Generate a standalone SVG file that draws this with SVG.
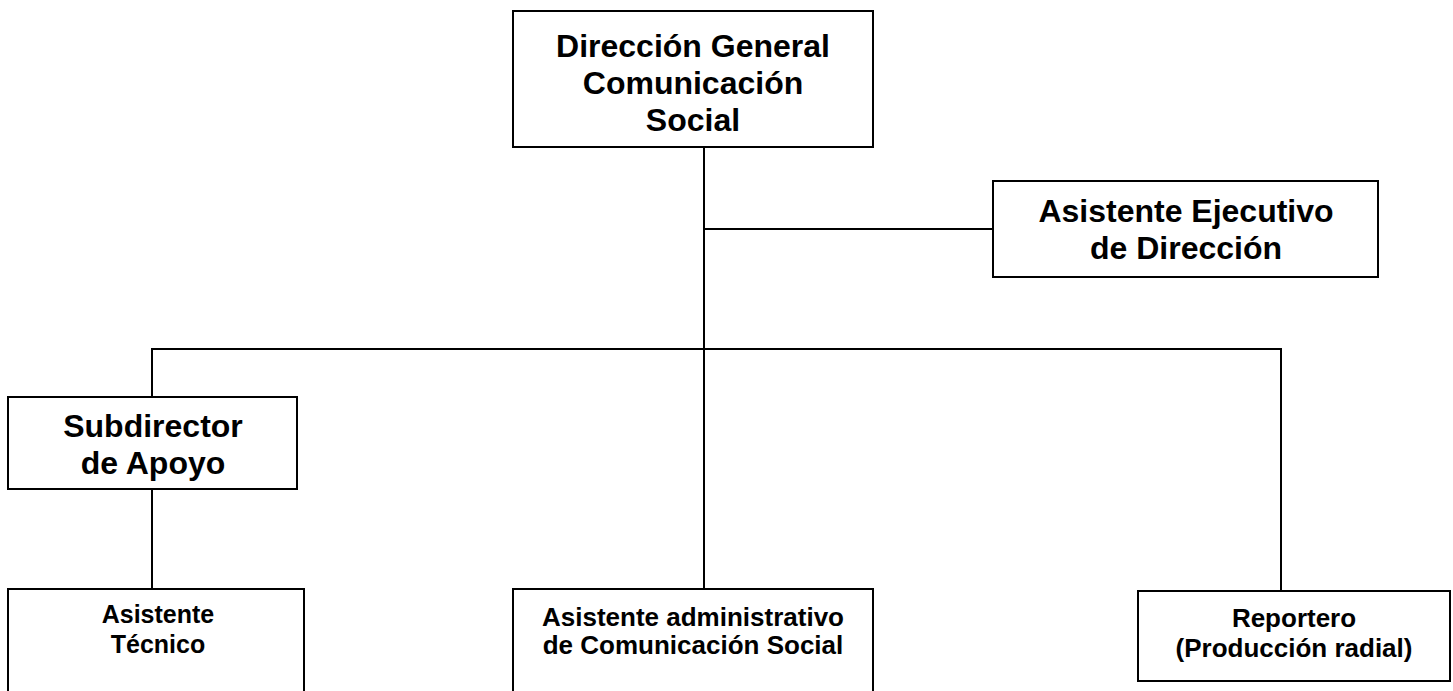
<svg xmlns="http://www.w3.org/2000/svg" width="1453" height="691" viewBox="0 0 1453 691">
<style>
.box{fill:#fff;stroke:#000;stroke-width:2}
.ln{stroke:#000;stroke-width:2;fill:none}
.t1{font-family:"Liberation Sans",Arial,sans-serif;font-weight:bold;font-size:32px;text-anchor:middle;fill:#000}
.t2{font-family:"Liberation Sans",Arial,sans-serif;font-weight:bold;font-size:26px;text-anchor:middle;fill:#000}
.t3{font-family:"Liberation Sans",Arial,sans-serif;font-weight:bold;font-size:25px;text-anchor:middle;fill:#000}
</style>
<rect width="1453" height="691" fill="#fff"/>
<g id="connectors">
<path class="ln" d="M704 147V590"/>
<path class="ln" d="M704 229H993"/>
<path class="ln" d="M152 397V349H1281V591"/>
<path class="ln" d="M152 489V589"/>
</g>
<g id="n-direccion">
<rect class="box" x="513" y="11" width="360" height="136"/>
<text class="t1" x="693" y="57">Dirección General</text>
<text class="t1" x="693" y="94">Comunicación</text>
<text class="t1" x="693" y="131">Social</text>
</g>
<g id="n-asistente-ejecutivo">
<rect class="box" x="993" y="181" width="385" height="96"/>
<text class="t1" x="1186" y="222">Asistente Ejecutivo</text>
<text class="t1" x="1186" y="259">de Dirección</text>
</g>
<g id="n-subdirector">
<rect class="box" x="8" y="397" width="289" height="92"/>
<text class="t1" x="153" y="437">Subdirector</text>
<text class="t1" x="153" y="474">de Apoyo</text>
</g>
<g id="n-asistente-tecnico">
<rect class="box" x="8" y="589" width="296" height="110"/>
<text class="t3" x="158" y="623">Asistente</text>
<text class="t3" x="158" y="653">Técnico</text>
</g>
<g id="n-asistente-admin">
<rect class="box" x="513" y="589" width="360" height="110"/>
<text class="t2" x="693" y="626">Asistente administrativo</text>
<text class="t2" x="693" y="654">de Comunicación Social</text>
</g>
<g id="n-reportero">
<rect class="box" x="1138" y="591" width="312" height="90"/>
<text class="t2" x="1294" y="627">Reportero</text>
<text class="t2" x="1294" y="657">(Producción radial)</text>
</g>
</svg>
